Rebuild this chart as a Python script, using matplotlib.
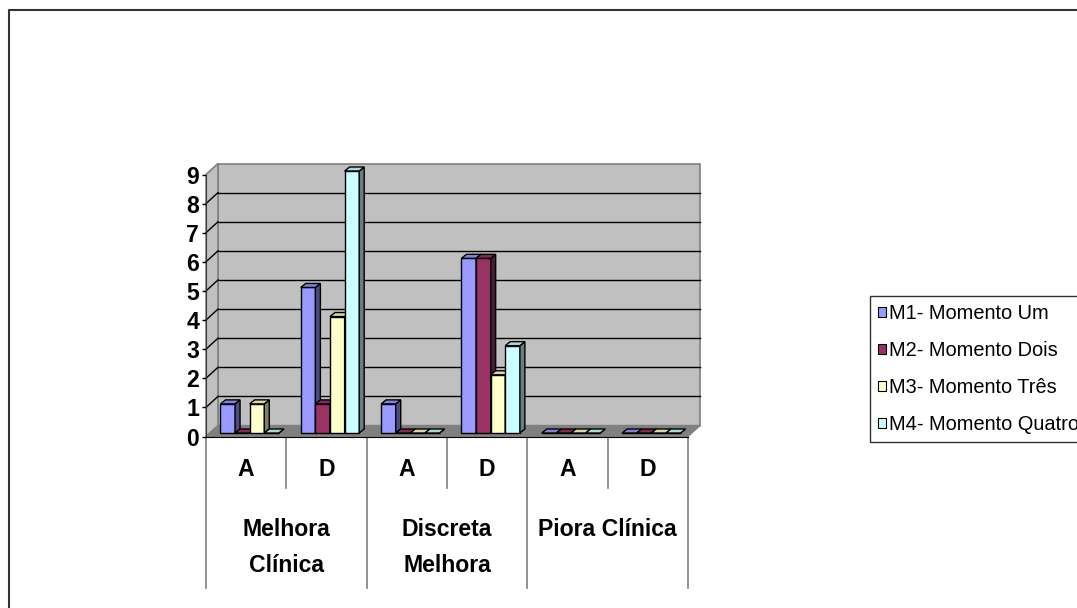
import matplotlib
matplotlib.use("Agg")
import matplotlib.pyplot as plt
from matplotlib.patches import Polygon, Patch
from matplotlib.lines import Line2D

plt.rcParams["font.family"] = ["Liberation Sans", "DejaVu Sans"]

# ---- data -------------------------------------------------------------
subgroups = ["A", "D", "A", "D", "A", "D"]
groups = ["Melhora\nClínica", "Discreta\nMelhora", "Piora Clínica"]
series_names = ["M1- Momento Um", "M2- Momento Dois",
                "M3- Momento Três", "M4- Momento Quatro"]
m1 = [1, 5, 1, 6, 0, 0]
m2 = [0, 1, 0, 6, 0, 0]
m3 = [1, 4, 0, 2, 0, 0]
m4 = [0, 9, 0, 3, 0, 0]
series_values = [m1, m2, m3, m4]
series_colors = ["#9999FF", "#993366", "#FFFFCC", "#CCFFFF"]
y_ticks = list(range(10))

# ---- figure / axes ----------------------------------------------------
W, H, DPI = 1077, 608, 100
fig = plt.figure(figsize=(W / DPI, H / DPI), dpi=DPI)
fig.patch.set_facecolor("white")

ax_left, ax_bottom, ax_w, ax_h = 206, 171.5, 482, 262
ax = fig.add_axes([ax_left / W, ax_bottom / H, ax_w / W, ax_h / H])
n_cat = len(subgroups)
y_max = max(y_ticks)
ax.set_xlim(0, n_cat)
ax.set_ylim(0, y_max)
ax.patch.set_visible(False)

# pixels per data unit, used to express fixed-size 3D depth offsets
ppx = ax_w / n_cat
ppy = ax_h / y_max


def dxy(px, py):
    return px / ppx, py / ppy


# ---- walls and floor ---------------------------------------------------
wx, wy = dxy(12, 11)
wall_fc, wall_ec = "#C0C0C0", "#808080"
ax.add_patch(Polygon([(wx, wy), (n_cat + wx, wy), (n_cat + wx, y_max + wy),
                      (wx, y_max + wy)], closed=True, fc=wall_fc, ec=wall_ec,
                     lw=1.2, zorder=0.5, clip_on=False))
ax.add_patch(Polygon([(0, 0), (wx, wy), (wx, y_max + wy), (0, y_max)],
                     closed=True, fc=wall_fc, ec=wall_ec, lw=1.2,
                     zorder=0.5, clip_on=False))
for k in y_ticks[1:-1]:
    ax.plot([wx, n_cat + wx], [k + wy, k + wy], color="black", lw=1,
            zorder=0.6, clip_on=False)
    ax.plot([0, wx], [k, k + wy], color="black", lw=1, zorder=0.6,
            clip_on=False)
ax.add_patch(Polygon([(0, 0), (n_cat, 0), (n_cat + wx, wy), (wx, wy)],
                     closed=True, fc="#808080", ec="#808080", lw=1,
                     zorder=0.7, clip_on=False))

# ---- 3D columns --------------------------------------------------------
n_ser = len(series_values)
bw = 1.0 / (n_ser + 1.5)           # gap width 150 %
sx, sy = dxy(3.5, 3.5)             # bars sit slightly behind the front plane
bx, by = dxy(5, 4)                 # bar depth


def shade(hex_color, f):
    r, g, b = (int(hex_color[i:i + 2], 16) for i in (1, 3, 5))
    return "#{:02X}{:02X}{:02X}".format(int(r * f), int(g * f), int(b * f))


for j, (vals, col) in enumerate(zip(series_values, series_colors)):
    z = 2 + j
    lefts = [i + 0.75 * bw + j * bw + sx for i in range(n_cat)]
    ax.bar(lefts, vals, width=bw, bottom=sy, align="edge", color=col,
           edgecolor="black", lw=1, zorder=z, clip_on=False)
    for xl, v in zip(lefts, vals):
        xr = xl + bw
        top = sy + v
        ax.add_patch(Polygon([(xr, sy), (xr + bx, sy + by), (xr + bx, top + by),
                              (xr, top)], closed=True, fc=shade(col, 0.5),
                             ec="black", lw=1, zorder=z, clip_on=False))
        ax.add_patch(Polygon([(xl, top), (xr, top), (xr + bx, top + by),
                              (xl + bx, top + by)], closed=True,
                             fc=shade(col, 0.85), ec="black", lw=1, zorder=z,
                             clip_on=False))

# ---- axes lines, ticks, labels -----------------------------------------
for side in ("top", "right"):
    ax.spines[side].set_visible(False)
ax.spines["left"].set_color("#404040")
ax.spines["bottom"].set_color("black")
ax.spines["left"].set_zorder(1)
ax.set_xticks([])
ax.set_yticks(y_ticks)
ax.set_yticklabels([str(t) for t in y_ticks], fontsize=16.6,
                   fontweight="bold")
ax.tick_params(axis="y", direction="out", length=3, width=1, pad=2,
               colors="black")

short_drop = 51.5 / ppy
long_drop = 151.5 / ppy
for x in range(n_cat + 1):
    drop = long_drop if x % 2 == 0 else short_drop
    ax.plot([x, x], [0, -drop], color="#808080", lw=1.2, clip_on=False,
            zorder=1)

for i, s in enumerate(subgroups):
    ax.annotate(s, xy=(i + 0.5, 0), xytext=(0, -33.5),
                textcoords="offset pixels", ha="center", va="center",
                fontsize=16.6, fontweight="bold", annotation_clip=False)
for g_i, g in enumerate(groups):
    ax.annotate(g, xy=(2 * g_i + 1, 0), xytext=(0, -82),
                textcoords="offset pixels", ha="center", va="top",
                fontsize=16.6, fontweight="bold", linespacing=1.7,
                annotation_clip=False)

# ---- legend ------------------------------------------------------------
handles = [Patch(facecolor=c, edgecolor="black", lw=0.8) for c in series_colors]
leg = fig.legend(handles, series_names, loc="upper left",
                 bbox_to_anchor=(870 / W, 1 - 296 / H), borderaxespad=0,
                 fontsize=14.4, frameon=True, fancybox=False, shadow=False,
                 handlelength=0.4, handleheight=0.4, handletextpad=0.15,
                 labelspacing=0.9, borderpad=0.4)
leg.get_frame().set_edgecolor("black")
leg.get_frame().set_linewidth(1)

# ---- outer chart border -------------------------------------------------
fig.add_artist(Line2D([9 / W, 9 / W, 1.0], [0.0, 1 - 10 / H, 1 - 10 / H],
                      transform=fig.transFigure, color="#333333", lw=1.5))

fig.savefig("out.png", dpi=DPI)
